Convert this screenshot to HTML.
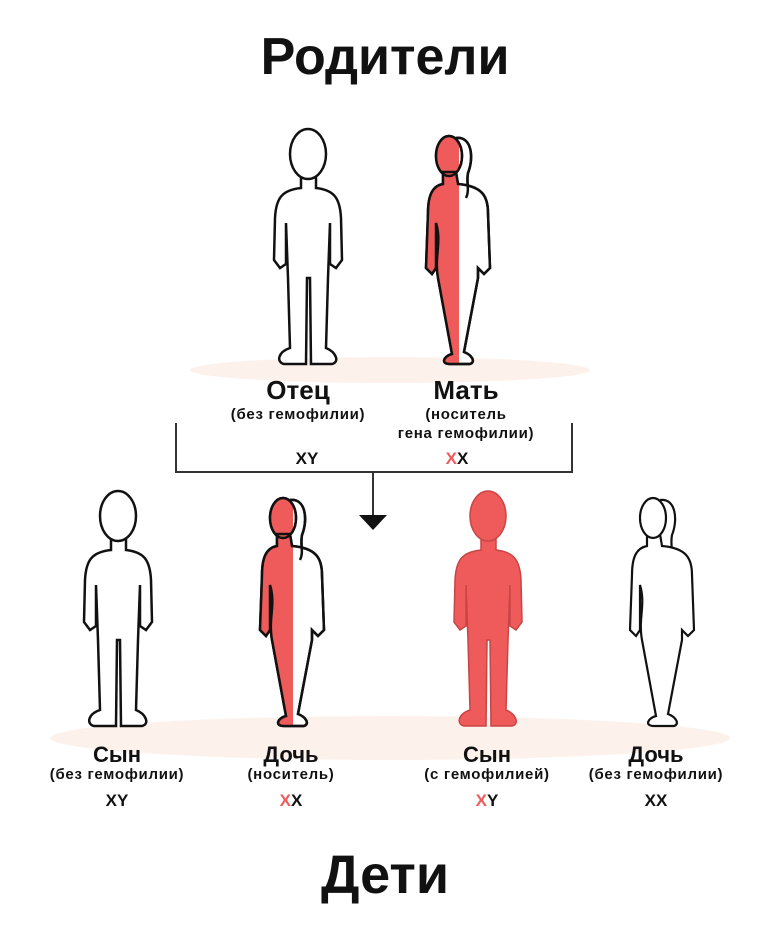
<!DOCTYPE html>
<html><head><meta charset="utf-8"><style>
html,body{margin:0;padding:0;background:#fff}
svg{display:block}
text{font-family:"Liberation Sans","DejaVu Sans",sans-serif;font-weight:bold;fill:#111;text-anchor:middle}
.s{font-size:15px;letter-spacing:0.7px}
</style></head><body>
<svg width="768" height="927" viewBox="0 0 768 927" xmlns="http://www.w3.org/2000/svg">
<defs>
<g id="male">
<path d="M31,48 L31,60 C12,62 6,70 5,90 L4,132 L10,140 L16,136 L16,95 L18,150 L20,220 C8,224 6,234 14,236 L36,236 L37,150 L40,150 L41,236 L62,236 C70,234 66,224 56,220 L58,150 L60,95 L60,136 L66,140 L72,132 L71,90 C70,70 64,62 46,60 L46,48 Z" />
<ellipse cx="38" cy="26" rx="18" ry="25"/>
</g>
<g id="female">
<path d="M30,10 C46,8 48,30 42,45 C40,55 44,62 40,70" fill="none"/>
<path d="M17,44 L17,56 C6,58 2,68 2,85 L0,140 L6,146 L10,140 L10,95 C16,115 8,128 12,150 L26,226 C18,228 14,236 24,236 L44,236 C50,234 46,227 38,224 L52,150 L52,140 L58,146 L64,140 L62,85 C62,68 56,58 32,56 L30,44 Z"/>
<ellipse cx="23" cy="28" rx="13" ry="20"/>
</g>
<clipPath id="lh"><rect x="-10" y="0" width="43" height="250"/></clipPath>
</defs>

<ellipse cx="390" cy="370" rx="200" ry="13" fill="#fdf1ec"/>
<ellipse cx="390" cy="738" rx="340" ry="22" fill="#fdf1ec"/>

<text x="385" y="74" font-size="52">Родители</text>
<text x="385" y="893" font-size="54">Дети</text>

<g transform="translate(270,128)" fill="#fff" stroke="#111" stroke-width="2.5"><use href="#male"/></g>
<g transform="translate(426,128)" stroke="#111" stroke-width="2.5">
<g fill="#fff"><use href="#female"/></g>
<g fill="#ef5a5a" clip-path="url(#lh)" stroke="none"><use href="#female"/></g>
<g fill="none"><use href="#female"/></g>
</g>

<text x="298" y="399" font-size="26">Отец</text>
<text x="298" y="419" class="s">(без гемофилии)</text>
<text x="466" y="399" font-size="26">Мать</text>
<text x="466" y="419" class="s">(носитель</text>
<text x="466" y="438" class="s">гена гемофилии)</text>
<text x="307" y="464" font-size="17">XY</text>
<text x="457" y="464" font-size="17"><tspan fill="#ef5a5a">X</tspan>X</text>

<path d="M176,423 V472 H572 V423 M373,472 V515" fill="none" stroke="#333" stroke-width="2"/>
<polygon points="359,515 387,515 373,530" fill="#111"/>

<g transform="translate(80,490)" fill="#fff" stroke="#111" stroke-width="2.5"><use href="#male"/></g>
<g transform="translate(260,490)" stroke="#111" stroke-width="2.5">
<g fill="#fff"><use href="#female"/></g>
<g fill="#ef5a5a" clip-path="url(#lh)" stroke="none"><use href="#female"/></g>
<g fill="none"><use href="#female"/></g>
</g>
<g transform="translate(450,490)" fill="#ef5a5a" stroke="#c94444" stroke-width="1.5"><use href="#male"/></g>
<g transform="translate(630,490)" fill="#fff" stroke="#111" stroke-width="2.2"><use href="#female"/></g>

<text x="117" y="762" font-size="22">Сын</text>
<text x="117" y="779" class="s">(без гемофилии)</text>
<text x="117" y="806" font-size="17">XY</text>
<text x="291" y="762" font-size="22">Дочь</text>
<text x="291" y="779" class="s">(носитель)</text>
<text x="291" y="806" font-size="17"><tspan fill="#ef5a5a">X</tspan>X</text>
<text x="487" y="762" font-size="22">Сын</text>
<text x="487" y="779" class="s">(с гемофилией)</text>
<text x="487" y="806" font-size="17"><tspan fill="#ef5a5a">X</tspan>Y</text>
<text x="656" y="762" font-size="22">Дочь</text>
<text x="656" y="779" class="s">(без гемофилии)</text>
<text x="656" y="806" font-size="17">XX</text>
</svg>
</body></html>
